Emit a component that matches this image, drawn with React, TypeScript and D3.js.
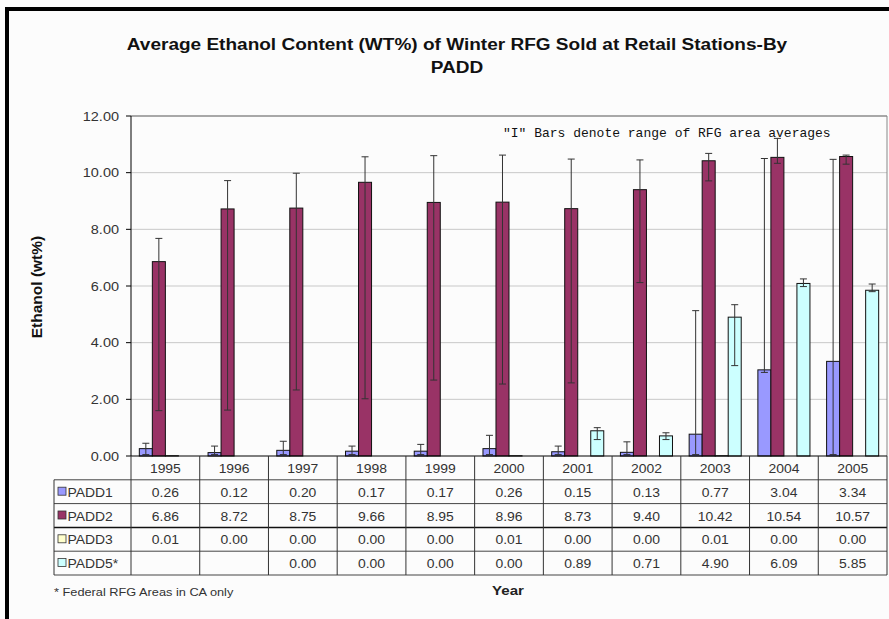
import React from 'react';
import * as d3 from 'd3';

const years = ['1995','1996','1997','1998','1999','2000','2001','2002','2003','2004','2005'];
const seriesNames = ['PADD1','PADD2','PADD3','PADD5*'];
const padd1 = [0.26,0.12,0.20,0.17,0.17,0.26,0.15,0.13,0.77,3.04,3.34];
const padd2 = [6.86,8.72,8.75,9.66,8.95,8.96,8.73,9.40,10.42,10.54,10.57];
const padd3 = [0.01,0.00,0.00,0.00,0.00,0.01,0.00,0.00,0.01,0.00,0.00];
const padd5: (number|null)[] = [null,null,0.00,0.00,0.00,0.00,0.89,0.71,4.90,6.09,5.85];
// range of RFG area averages ("I" bars)
const padd1Hi = [0.45,0.35,0.52,0.35,0.41,0.73,0.35,0.50,5.13,10.50,10.47];
const padd1Lo = [0.05,0.05,0.05,0.05,0.05,0.05,0.05,0.05,0.05,2.95,0.05];
const padd2Hi = [7.68,9.72,9.98,10.56,10.60,10.62,10.48,10.45,10.68,11.21,10.62];
const padd2Lo = [1.60,1.62,2.33,2.02,2.68,2.54,2.58,6.12,9.71,10.33,10.30];
const padd5Hi: (number|null)[] = [null,null,null,null,null,null,1.00,0.82,5.34,6.25,6.07];
const padd5Lo: (number|null)[] = [null,null,null,null,null,null,0.58,0.58,3.19,5.98,5.80];
const yTicks = [0,2,4,6,8,10,12];
const colors = ['#9999FF','#993366','#FFFFCC','#CCFFFF'];

const W = 889, H = 619;
const L = 131, R = 887, T = 116, B = 456;
const rowH = 23.8;
const K = 1.16; // horizontal stretch of the reference's text

function SText(props: { x: number; y: number; anchor?: string; size: number; weight?: string; fill?: string; children: React.ReactNode; family?: string }) {
  const { x, y, anchor = 'start', size, weight = 'normal', fill = '#333', children, family } = props;
  return (
    <text transform={`translate(${x},${y}) scale(${K},1)`} textAnchor={anchor} fontSize={size}
      fontWeight={weight} fill={fill} fontFamily={family}>{children}</text>
  );
}

export default function App() {
  const x = d3.scaleBand<string>().domain(years).range([L, R]).padding(0);
  const xs = d3.scaleBand<number>().domain([0,1,2,3]).range([0, x.bandwidth()]).paddingInner(0).paddingOuter(0.64);
  const y = d3.scaleLinear().domain([0, 12]).range([B, T]);
  const fmt = d3.format('.2f');
  const values = [padd1, padd2, padd3, padd5];
  const errs = [
    { hi: padd1Hi, lo: padd1Lo },
    { hi: padd2Hi, lo: padd2Lo },
    null,
    { hi: padd5Hi, lo: padd5Lo },
  ];
  const font = '"Liberation Sans", Arial, sans-serif';
  const rows = [0,1,2,3,4,5].map(i => B + i * rowH);

  return (
    <svg width={W} height={H} style={{ display: 'block', position: 'absolute', left: 0, top: 0 }} fontFamily={font}>
      <rect x={0} y={0} width={W} height={H} fill="#fcfcfc" />
      {/* frame */}
      <rect x={5} y={7} width={W - 5} height={4} fill="#000" />
      <rect x={5} y={7} width={4} height={H - 7} fill="#000" />

      {/* title */}
      <SText x={457} y={50} anchor="middle" size={16.4} weight="bold" fill="#111">
        Average Ethanol Content (WT%) of Winter RFG Sold at Retail Stations-By
      </SText>
      <SText x={457} y={73} anchor="middle" size={16.4} weight="bold" fill="#111">PADD</SText>

      {/* gridlines */}
      {yTicks.filter(t => t > 0 && t < 12).map(t => (
        <line key={t} x1={L} x2={R} y1={y(t)} y2={y(t)} stroke="#c8c8c8" strokeWidth={1} />
      ))}
      <line x1={L} x2={R} y1={y(12)} y2={y(12)} stroke="#555" strokeWidth={1} />
      <line x1={R} x2={R} y1={y(12)} y2={B} stroke="#888" strokeWidth={1} />

      {/* annotation */}
      <text x={503} y={137} fontFamily='"Liberation Mono", "Courier New", monospace' fontSize={13} fill="#111">
        "I" Bars denote range of RFG area averages
      </text>

      {/* bars */}
      {values.map((vals, si) => vals.map((v, i) => v === null ? null : (
        <rect key={`b${si}-${i}`} x={(x(years[i]) as number) + (xs(si) as number)} y={y(v)}
          width={xs.bandwidth()} height={Math.max(0, B - y(v))} fill={colors[si]} stroke="#111" strokeWidth={1} />
      )))}

      {/* error bars */}
      {errs.map((e, si) => e === null ? null : years.map((yr, i) => {
        const hi = e.hi[i], lo = e.lo[i];
        if (hi === null || lo === null) return null;
        const cx = (x(yr) as number) + (xs(si) as number) + xs.bandwidth() / 2;
        return (
          <g key={`e${si}-${i}`} stroke="#333" strokeWidth={1}>
            <line x1={cx} x2={cx} y1={y(hi)} y2={y(lo)} />
            <line x1={cx - 3.5} x2={cx + 3.5} y1={y(hi)} y2={y(hi)} />
            <line x1={cx - 3.5} x2={cx + 3.5} y1={y(lo)} y2={y(lo)} />
          </g>
        );
      }))}

      {/* y axis */}
      <line x1={L} x2={L} y1={T} y2={B} stroke="#000" strokeWidth={1} />
      {yTicks.map(t => (
        <g key={`t${t}`}>
          <line x1={L - 5} x2={L} y1={y(t)} y2={y(t)} stroke="#000" />
          <SText x={119} y={y(t) + 4.5} anchor="end" size={12.5} fill="#333">{fmt(t)}</SText>
        </g>
      ))}
      <text transform={`translate(42,287) rotate(-90)`} textAnchor="middle" fontSize={15.5} fontWeight="bold" fill="#111">Ethanol (wt%)</text>

      {/* data table */}
      <line x1={L} x2={R} y1={B} y2={B} stroke="#000" />
      {rows.slice(1).map((ry, i) => (
        <line key={`h${i}`} x1={54} x2={R} y1={ry} y2={ry} stroke={i === 2 ? '#111' : '#444'} strokeWidth={i === 2 ? 1.5 : 1} />
      ))}
      {years.map((yr, i) => (
        <line key={`v${i}`} x1={x(yr) as number} x2={x(yr) as number} y1={B} y2={rows[5]} stroke="#333" />
      ))}
      <line x1={R} x2={R} y1={B} y2={rows[5]} stroke="#333" />
      <line x1={54} x2={54} y1={rows[1]} y2={rows[5]} stroke="#333" />
      {years.map((yr, i) => (
        <SText key={`yl${i}`} x={(x(yr) as number) + x.bandwidth() / 2} y={B + 17} anchor="middle" size={12} fill="#333">{yr}</SText>
      ))}
      {values.map((vals, si) => (
        <g key={`r${si}`}>
          <rect x={58} y={rows[si + 1] + rowH / 2 - 4.5} width={8} height={8} fill={colors[si]} stroke="#333" strokeWidth={0.8} />
          <SText x={67.5} y={rows[si + 1] + rowH / 2 + 5} size={12} fill="#333">{seriesNames[si]}</SText>
          {vals.map((v, i) => v === null ? null : (
            <SText key={`c${si}-${i}`} x={(x(years[i]) as number) + x.bandwidth() / 2} y={rows[si + 1] + rowH / 2 + 5}
              anchor="middle" size={12} fill="#333">{fmt(v)}</SText>
          ))}
        </g>
      ))}

      {/* axis title & footnote */}
      <SText x={508} y={595} anchor="middle" size={13} weight="bold" fill="#222">Year</SText>
      <SText x={54} y={596} size={11} fill="#333">* Federal RFG Areas in CA only</SText>
    </svg>
  );
}
